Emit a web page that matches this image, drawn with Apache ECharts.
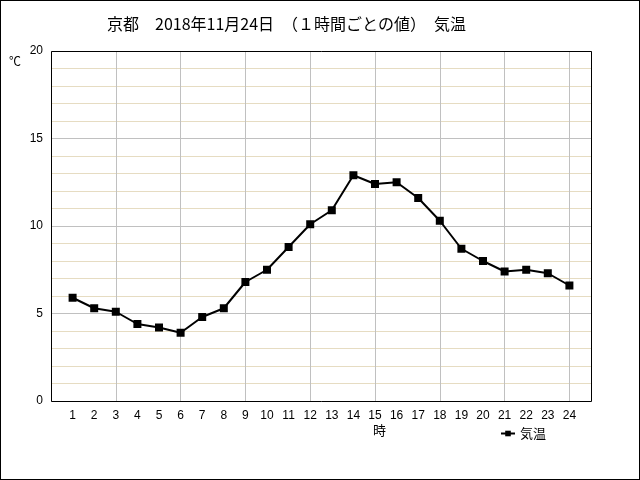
<!DOCTYPE html>
<html>
<head>
<meta charset="utf-8">
<script src="https://cdn.jsdelivr.net/npm/echarts@6/dist/echarts.min.js"></script>
<style>
  html, body { margin: 0; padding: 0; background: #fff; }
  #chart { width: 640px; height: 480px; box-sizing: border-box; border: 1px solid #000; }
</style>
</head>
<body>
<div id="chart"></div>
<script>
// 時刻 (時)
const hours = [1, 2, 3, 4, 5, 6, 7, 8, 9, 10, 11, 12, 13, 14, 15, 16, 17, 18, 19, 20, 21, 22, 23, 24]
// 気温 (℃)
const temps = [5.9, 5.3, 5.1, 4.4, 4.2, 3.9, 4.8, 5.3, 6.8, 7.5, 8.8, 10.1, 10.9, 12.9, 12.4, 12.5, 11.6, 10.3, 8.7, 8.0, 7.4, 7.5, 7.3, 6.6]
const yTicks = [0, 5, 10, 15, 20]

const labelFont = 'Liberation Sans'
const jpFont = 'Noto Sans CJK JP'

const gridBox = { left: 50, top: 50, width: 540, height: 350 }

const chart = echarts.init(document.getElementById('chart'), null, { renderer: 'canvas' })

chart.setOption({
  animation: false,
  title: {
    text: '京都　2018年11月24日　（１時間ごとの値）　気温',
    left: 101,
    top: 10,
    textStyle: { fontFamily: jpFont, fontSize: 16, fontWeight: 'normal', color: '#000' },
  },
  grid: {
    left: gridBox.left,
    top: gridBox.top,
    width: gridBox.width,
    height: gridBox.height,
    show: false,
  },
  legend: {
    data: ['気温'],
    left: 494,
    top: 421,
    itemWidth: 14,
    itemHeight: 7,
    itemGap: 4,
    textStyle: { fontFamily: jpFont, fontSize: 13, color: '#000' },
  },
  graphic: [
    { type: 'text', left: 8, top: 54, style: { text: '℃', font: '12px ' + jpFont, fill: '#000' } },
    { type: 'text', left: 372, top: 423, style: { text: '時', font: '13px ' + jpFont, fill: '#000' } },
    {
      // plot frame on top of the grid lines
      type: 'rect',
      z: 100,
      silent: true,
      shape: { x: gridBox.left + 0.5, y: gridBox.top + 0.5, width: gridBox.width, height: gridBox.height },
      style: { fill: 'none', stroke: '#000', lineWidth: 1 },
    },
  ],
  xAxis: [
    {
      type: 'value',
      min: 0,
      max: 25,
      interval: 1,
      axisLine: { show: false },
      axisTick: { show: false },
      splitLine: { show: false },
      axisLabel: {
        color: '#000',
        fontFamily: labelFont,
        fontSize: 12,
        margin: 9,
        formatter: v => (hours.includes(v) ? String(v) : ''),
      },
    },
    {
      type: 'value',
      min: 0,
      max: 25,
      interval: 3,
      position: 'bottom',
      axisLine: { show: false },
      axisTick: { show: false },
      axisLabel: { show: false },
      splitLine: { show: true, lineStyle: { color: '#C0C0C0', width: 1 } },
    },
  ],
  yAxis: {
    type: 'value',
    min: yTicks[0],
    max: yTicks[yTicks.length - 1],
    interval: 5,
    axisLine: { show: false },
    axisTick: { show: false },
    axisLabel: { color: '#000', fontFamily: labelFont, fontSize: 12, margin: 8 },
    splitLine: { show: true, lineStyle: { color: '#C0C0C0', width: 1 } },
    minorTick: { show: false, splitNumber: 5 },
    minorSplitLine: { show: true, lineStyle: { color: '#E6DCC2', width: 1 } },
  },
  series: [
    {
      name: '気温',
      type: 'line',
      xAxisIndex: 0,
      data: hours.map((h, i) => [h, temps[i]]),
      symbol: 'rect',
      symbolSize: 8,
      lineStyle: { color: '#000', width: 2 },
      itemStyle: { color: '#000' },
      z: 5,
    },
  ],
})
</script>
</body>
</html>
